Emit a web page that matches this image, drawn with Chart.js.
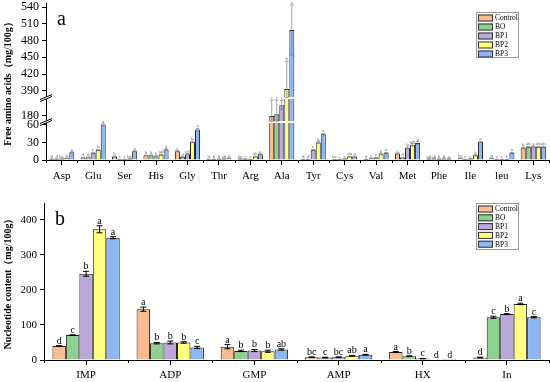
<!DOCTYPE html>
<html>
<head>
<meta charset="utf-8">
<script src="https://cdn.jsdelivr.net/npm/chart.js@4.4.0/dist/chart.umd.min.js"></script>
<style>
  html, body { margin: 0; padding: 0; background: #fff; }
  #wrap { position: relative; width: 550px; height: 382px; overflow: hidden; }
  #topBox { position: absolute; left: 0; top: -10px; width: 550px; height: 200px; }
  #botBox { position: absolute; left: 0; top: 190px; width: 550px; height: 192px; }
</style>
</head>
<body>
<div id="wrap">
  <div id="topBox"><canvas id="aminoChart" width="550" height="200"></canvas></div>
  <div id="botBox"><canvas id="nucChart" width="550" height="192"></canvas></div>
</div>
<script>
const seriesNames = ['Control', 'BO', 'BP1', 'BP2', 'BP3'];
const seriesColors = ['#F9BC90', '#8ED18F', '#BBA7D8', '#FFFF80', '#8DB6F2'];

// panel a - free amino acids
const aminoAcids = ['Asp', 'Glu', 'Ser', 'His', 'Gly', 'Thr', 'Arg', 'Ala', 'Tyr', 'Cys', 'Val', 'Met', 'Phe', 'Ile', 'leu', 'Lys'];
const aminoControl = [1.5, 4, 6, 8, 15, 1, 2, 180, 1, 1, 1, 11, 2, 3, 3, 21];
const aminoBO      = [1.5, 4.5, 1, 8, 5, 1, 1.5, 183, 1, 0.5, 3, 4, 2, 1, 1, 22];
const aminoBP1     = [2, 12, 1, 6.5, 10, 1.5, 1, 199, 17, 2, 4, 21, 1.5, 2, 1, 23];
const aminoBP2     = [3, 17, 2, 9, 31, 2, 6, 393, 30, 6, 10, 26, 2, 8, 1, 22];
const aminoBP3     = [13, 60, 15, 18, 52, 3, 10, 499, 44, 6, 12, 29, 2, 31, 12, 22];
const aminoErrControl = [0.3, 0.5, 0.5, 0.5, 1, 0.2, 0.3, 28, 0.2, 0.2, 0.2, 1, 0.3, 0.5, 0.5, 1];
const aminoErrBO      = [0.3, 0.5, 0.2, 0.5, 0.5, 0.2, 0.3, 25, 0.2, 0.1, 0.5, 0.5, 0.3, 0.2, 0.2, 1];
const aminoErrBP1     = [0.3, 1, 0.2, 0.5, 1, 0.2, 0.2, 8, 1, 0.3, 0.5, 1.5, 0.3, 0.3, 0.2, 1];
const aminoErrBP2     = [0.5, 1, 0.3, 0.8, 1.5, 0.3, 0.5, 50, 1.5, 0.5, 0.8, 2, 0.3, 1, 0.2, 1];
const aminoErrBP3     = [1, 1.5, 1, 1, 2, 0.3, 0.8, 45, 1.5, 0.5, 0.8, 2.5, 0.3, 1, 0.8, 1];
const aminoLetters = [
  ['d', 'd', 'bc', 'b', 'a'], ['d', 'd', 'c', 'b', 'a'], ['b', 'c', 'c', 'bc', 'a'], ['b', 'b', 'b', 'ab', 'a'],
  ['c', 'd', 'cd', 'b', 'a'], ['b', 'b', 'b', 'ab', 'a'], ['bc', 'c', 'c', 'ab', 'a'], ['c', 'c', 'c', 'b', 'a'],
  ['d', 'd', 'c', 'b', 'a'], ['bc', 'c', 'c', 'ab', 'a'], ['d', 'c', 'c', 'b', 'a'], ['c', 'd', 'b', 'ab', 'a'],
  ['ab', 'ab', 'b', 'b', 'a'], ['bc', 'c', 'c', 'b', 'a'], ['b', 'c', 'c', 'c', 'a'], ['b', 'ab', 'a', 'ab', 'ab']
];
const aminoTicks = [0, 30, 60, 180, 390, 420, 450, 480, 510, 540];

// panel b - nucleotides
const nucCategories = ['IMP', 'ADP', 'GMP', 'AMP', 'HX', 'In'];
const nucControl = [40, 145, 38, 8, 23, 7];
const nucBO      = [71, 48, 26, 7, 11, 122];
const nucBP1     = [246, 50, 27, 8, 4, 131];
const nucBP2     = [373, 50, 25, 12, 0.5, 160];
const nucBP3     = [349, 36, 30, 15, 0.3, 122];
const nucErrControl = [1, 6, 6, 1, 1, 1];
const nucErrBO      = [1, 2, 2, 1, 1, 3];
const nucErrBP1     = [7, 4, 3, 1, 0.5, 1];
const nucErrBP2     = [10, 2, 3, 1, 0, 2];
const nucErrBP3     = [3, 3, 2, 1, 0, 2];
const nucLetters = [
  ['d', 'c', 'b', 'a', 'a'], ['a', 'b', 'b', 'b', 'c'], ['a', 'b', 'b', 'b', 'ab'],
  ['bc', 'c', 'bc', 'ab', 'a'], ['a', 'b', 'c', 'd', 'd'], ['d', 'c', 'b', 'a', 'c']
];

// broken axis: value ranges and the share of the axis height each one takes (from bottom)
const axisPieces = [
  { lo: 0, hi: 63, f0: 0, f1: 37 / 157 },
  { lo: 171, hi: 210, f0: 39 / 157, f1: 61 / 157 },
  { lo: 378.7, hi: 547.7, f0: 63 / 157, f1: 1 }
];

function fracOf(v) {
  for (let i = 0; i < axisPieces.length; i++) {
    const s = axisPieces[i];
    if (v <= s.hi || i === axisPieces.length - 1) {
      if (v >= s.lo || i === 0) return s.f0 + (v - s.lo) / (s.hi - s.lo) * (s.f1 - s.f0);
      const p = axisPieces[i - 1];
      return p.f1 + (v - p.hi) / (s.lo - p.hi) * (s.f0 - p.f1);
    }
  }
}

class BrokenScale extends Chart.LinearScale {
  buildTicks() {
    this.start = this.min;
    this.end = this.max;
    return aminoTicks.map(v => ({ value: v }));
  }
  getPixelForValue(v) {
    if (v === null || v === undefined) return NaN;
    return this.bottom - fracOf(v) * (this.bottom - this.top);
  }
  getValueForPixel(px) {
    const f = (this.bottom - px) / (this.bottom - this.top);
    for (const s of axisPieces) {
      if (f <= s.f1) return s.lo + (f - s.f0) / (s.f1 - s.f0) * (s.hi - s.lo);
    }
    return this.max;
  }
}
BrokenScale.id = 'broken';
BrokenScale.defaults = Chart.LinearScale.defaults;
Chart.register(BrokenScale);

const serif = 'Liberation Serif, Times New Roman, serif';

function makeDatasets(values) {
  return values.map((d, i) => ({
    label: seriesNames[i],
    data: d,
    backgroundColor: seriesColors[i],
    borderColor: '#222',
    borderWidth: 1,
    categoryPercentage: 0.8,
    barPercentage: 1.0
  }));
}

function annotPlugin(cfg) {
  return {
    id: 'annot',
    afterDatasetsDraw(chart) {
      const ctx = chart.ctx, xs = chart.scales.x, ys = chart.scales.y, area = chart.chartArea;
      ctx.save();
      // white cuts for the axis breaks
      if (cfg.broken) {
        for (let i = 1; i < axisPieces.length; i++) {
          const yA = ys.bottom - axisPieces[i].f0 * (ys.bottom - ys.top);
          const yB = ys.bottom - axisPieces[i - 1].f1 * (ys.bottom - ys.top);
          ctx.fillStyle = '#fff';
          ctx.fillRect(area.left - 2, yA, area.right - area.left + 3, yB - yA);
          ctx.strokeStyle = '#000';
          ctx.lineWidth = 1;
          [yA, yB].forEach(yy => {
            ctx.beginPath();
            ctx.moveTo(area.left - 6, yy + 2.5);
            ctx.lineTo(area.left + 6, yy - 2.5);
            ctx.stroke();
          });
        }
      }
      // error bars and letters
      chart.data.datasets.forEach((ds, di) => {
        const meta = chart.getDatasetMeta(di);
        meta.data.forEach((bar, i) => {
          const v = ds.data[i], e = cfg.errors[di][i];
          const cx = bar.x;
          const yTop = ys.getPixelForValue(v + e);
          if (e > 0) {
            const yLow = ys.getPixelForValue(Math.max(v - e, 0));
            ctx.strokeStyle = cfg.errColor;
            ctx.lineWidth = cfg.errWidth;
            ctx.beginPath();
            ctx.moveTo(cx, yLow); ctx.lineTo(cx, yTop);
            ctx.moveTo(cx - cfg.cap, yTop); ctx.lineTo(cx + cfg.cap, yTop);
            ctx.moveTo(cx - cfg.cap, yLow); ctx.lineTo(cx + cfg.cap, yLow);
            ctx.stroke();
          }
          ctx.fillStyle = cfg.letterColor;
          ctx.font = cfg.letterSize + 'px ' + serif;
          ctx.textAlign = 'center';
          ctx.textBaseline = 'alphabetic';
          ctx.fillText(cfg.letters[i][di], cx, yTop - cfg.letterGap);
        });
      });
      // short ticks between categories
      ctx.strokeStyle = '#000';
      ctx.lineWidth = 1;
      for (let i = 0; i <= chart.data.labels.length; i++) {
        const px = Math.round(xs.getPixelForValue(i - 0.5)) + 0.5;
        ctx.beginPath();
        ctx.moveTo(px, area.bottom);
        ctx.lineTo(px, area.bottom + 3);
        ctx.stroke();
      }
      ctx.restore();
    },
    afterDraw(chart) {
      const ctx = chart.ctx, L = cfg.legend;
      ctx.save();
      ctx.fillStyle = '#fff';
      ctx.fillRect(L.x, L.y, L.w, L.h);
      ctx.strokeStyle = '#999';
      ctx.lineWidth = 1;
      ctx.strokeRect(L.x + 0.5, L.y + 0.5, L.w, L.h);
      seriesNames.forEach((name, i) => {
        const ry = L.y + 2.5 + i * L.row;
        ctx.fillStyle = seriesColors[i];
        ctx.fillRect(L.x + 2, ry, 15, 7);
        ctx.strokeStyle = '#333';
        ctx.strokeRect(L.x + 2.5, ry + 0.5, 14, 6);
        ctx.fillStyle = '#000';
        ctx.font = '7.5px ' + serif;
        ctx.textAlign = 'left';
        ctx.textBaseline = 'middle';
        ctx.fillText(name, L.x + 19, ry + 4);
      });
      ctx.font = '20px ' + serif;
      ctx.textAlign = 'left';
      ctx.textBaseline = 'alphabetic';
      ctx.fillText(cfg.panel, cfg.panelX, cfg.panelY);
      ctx.restore();
    }
  };
}

function axisX(h, pad) {
  return {
    grid: { display: true, offset: false, drawOnChartArea: false, tickLength: 5, color: '#000' },
    border: { color: '#000', width: 1 },
    ticks: { color: '#000', font: { family: serif, size: 11 }, padding: pad, maxRotation: 0, autoSkip: false },
    afterFit(s) { s.height = h; }
  };
}

function axisYStyle(title, w, size) {
  return {
    grid: { display: true, drawOnChartArea: false, tickLength: 4, color: '#000' },
    border: { color: '#000', width: 1 },
    ticks: { color: '#000', font: { family: serif, size: size }, padding: 3, autoSkip: false },
    title: { display: true, text: title, color: '#000', font: { family: serif, size: 10, weight: 'bold' }, padding: { top: 2, bottom: 2 } },
    afterFit(s) { s.width = w; }
  };
}

new Chart(document.getElementById('aminoChart'), {
  type: 'bar',
  data: {
    labels: aminoAcids,
    datasets: makeDatasets([aminoControl, aminoBO, aminoBP1, aminoBP2, aminoBP3])
  },
  options: {
    responsive: false,
    animation: false,
    devicePixelRatio: 1,
    events: [],
    layout: { padding: { top: 13, right: 1, left: 0, bottom: 0 } },
    plugins: { legend: { display: false }, tooltip: { enabled: false } },
    scales: {
      x: axisX(30, 5),
      y: Object.assign({ type: 'broken', min: 0, max: 547.7 }, axisYStyle('Free amino acids（mg/100g）', 46, 12))
    }
  },
  plugins: [annotPlugin({
    broken: true,
    errors: [aminoErrControl, aminoErrBO, aminoErrBP1, aminoErrBP2, aminoErrBP3],
    letters: aminoLetters,
    errColor: '#888', errWidth: 0.8, cap: 2,
    letterColor: '#666', letterSize: 5, letterGap: 1,
    legend: { x: 476, y: 22, w: 42, h: 45, row: 9 },
    panel: 'a', panelX: 57, panelY: 35
  })]
});

new Chart(document.getElementById('nucChart'), {
  type: 'bar',
  data: {
    labels: nucCategories,
    datasets: makeDatasets([nucControl, nucBO, nucBP1, nucBP2, nucBP3])
  },
  options: {
    responsive: false,
    animation: false,
    devicePixelRatio: 1,
    events: [],
    layout: { padding: { top: 13, right: 1, left: 0, bottom: 0 } },
    plugins: { legend: { display: false }, tooltip: { enabled: false } },
    scales: {
      x: axisX(22, 3.5),
      y: Object.assign({ min: 0, max: 448, ticks: {} }, axisYStyle('Nucleotide content（mg/100g）', 44, 11), {
        ticks: { color: '#000', font: { family: serif, size: 11 }, padding: 3, stepSize: 100, includeBounds: false }
      })
    }
  },
  plugins: [annotPlugin({
    broken: false,
    errors: [nucErrControl, nucErrBO, nucErrBP1, nucErrBP2, nucErrBP3],
    letters: nucLetters,
    errColor: '#000', errWidth: 1, cap: 3,
    letterColor: '#000', letterSize: 10, letterGap: 2,
    legend: { x: 476, y: 13, w: 42, h: 46, row: 8.8 },
    panel: 'b', panelX: 55, panelY: 35
  })]
});
</script>
</body>
</html>
